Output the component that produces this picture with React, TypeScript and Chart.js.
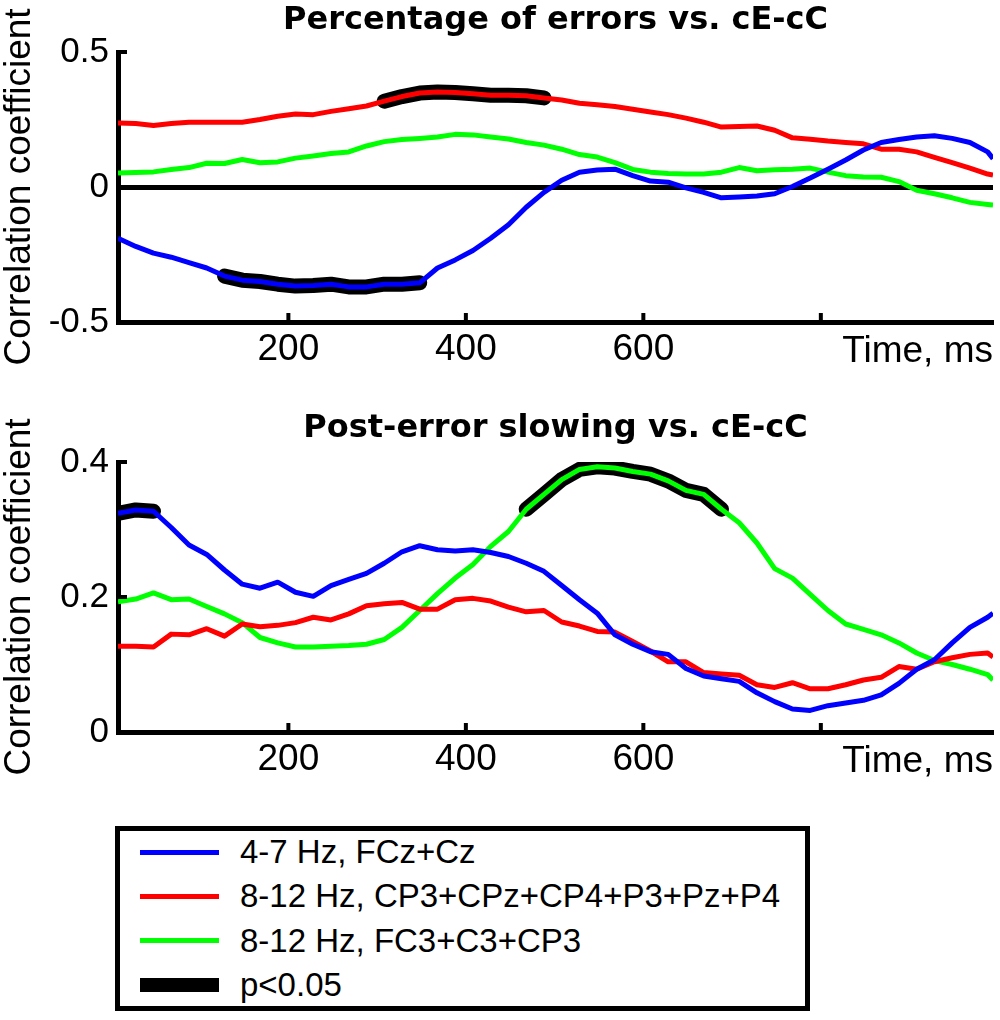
import { useEffect, useRef } from 'react'
import { Chart, registerables } from 'chart.js'
import type { ChartConfiguration, Plugin } from 'chart.js'

Chart.register(...registerables)

const FONT = "'Liberation Sans', Arial, Helvetica, sans-serif"
const TITLE_FONT = "'DejaVu Sans', 'Liberation Sans', Arial, sans-serif"

// time axis (ms)
const timeMs = [
  8, 28, 48, 68, 88, 108, 128, 148, 168, 188, 208, 228, 248, 268, 288, 308, 328,
  348, 368, 388, 408, 428, 448, 468, 488, 508, 528, 548, 568, 588, 608, 628, 648,
  668, 688, 708, 728, 748, 768, 788, 808, 828, 848, 868, 888, 908, 928, 948, 968,
  988, 994,
]
const timeTicks = [200, 400, 600, 800]
// the 800 slot is left empty, the axis title sits there
const timeTickLabels = ['200', '400', '600', '']

const seriesNames = ['4-7 Hz, FCz+Cz', '8-12 Hz, CP3+CPz+CP4+P3+Pz+P4', '8-12 Hz, FC3+C3+CP3']
const seriesColors = ['#0000ff', '#ff0000', '#00ff00']
const sigName = 'p<0.05'

// Percentage of errors vs. cE-cC
const errTheta = [
  -0.19, -0.22, -0.245, -0.26, -0.28, -0.3, -0.33, -0.345, -0.35, -0.36, -0.367,
  -0.365, -0.36, -0.37, -0.37, -0.36, -0.36, -0.355, -0.3, -0.27, -0.235, -0.19,
  -0.14, -0.075, -0.02, 0.025, 0.055, 0.063, 0.066, 0.042, 0.022, 0.018, -0.003,
  -0.02, -0.04, -0.037, -0.033, -0.025, 0.002, 0.033, 0.066, 0.1, 0.137, 0.165,
  0.176, 0.185, 0.19, 0.18, 0.165, 0.13, 0.105,
]
const errAlphaPar = [
  0.237, 0.235, 0.228, 0.235, 0.24, 0.24, 0.24, 0.24, 0.25, 0.262, 0.27, 0.268,
  0.28, 0.29, 0.3, 0.318, 0.335, 0.348, 0.352, 0.35, 0.345, 0.34, 0.34, 0.338,
  0.33, 0.322, 0.31, 0.305, 0.298, 0.288, 0.278, 0.268, 0.255, 0.24, 0.222, 0.224,
  0.226, 0.21, 0.182, 0.177, 0.17, 0.165, 0.16, 0.14, 0.14, 0.13, 0.11, 0.09,
  0.07, 0.048, 0.044,
]
const errAlphaLeft = [
  0.052, 0.054, 0.056, 0.065, 0.072, 0.088, 0.087, 0.102, 0.09, 0.093, 0.107,
  0.115, 0.124, 0.13, 0.152, 0.168, 0.176, 0.18, 0.185, 0.195, 0.193, 0.185,
  0.178, 0.165, 0.155, 0.14, 0.12, 0.111, 0.09, 0.065, 0.055, 0.05, 0.048, 0.048,
  0.055, 0.072, 0.06, 0.064, 0.066, 0.07, 0.055, 0.042, 0.037, 0.036, 0.02,
  -0.012, -0.025, -0.04, -0.057, -0.065, -0.067,
]
// significant windows (ms) per series
const errSig: ([number, number] | null)[] = [[128, 348], [308, 488], null]
const errYTicks = [-0.5, 0, 0.5]

// Post-error slowing vs. cE-cC
const pesTheta = [
  0.324, 0.329, 0.327, 0.303, 0.277, 0.263, 0.24, 0.219, 0.213, 0.222, 0.207,
  0.201, 0.217, 0.226, 0.235, 0.25, 0.267, 0.276, 0.27, 0.268, 0.27, 0.266, 0.26,
  0.25, 0.238, 0.217, 0.196, 0.176, 0.144, 0.13, 0.119, 0.115, 0.094, 0.083,
  0.079, 0.075, 0.058, 0.045, 0.034, 0.032, 0.039, 0.043, 0.047, 0.055, 0.072,
  0.093, 0.107, 0.132, 0.155, 0.17, 0.176,
]
const pesAlphaPar = [
  0.127, 0.127, 0.126, 0.145, 0.144, 0.153, 0.142, 0.16, 0.156, 0.158, 0.162,
  0.17, 0.166, 0.175, 0.187, 0.19, 0.192, 0.182, 0.182, 0.196, 0.198, 0.194,
  0.185, 0.178, 0.18, 0.163, 0.157, 0.149, 0.148, 0.134, 0.12, 0.104, 0.104,
  0.088, 0.086, 0.084, 0.07, 0.066, 0.073, 0.064, 0.064, 0.07, 0.077, 0.081,
  0.097, 0.093, 0.104, 0.11, 0.115, 0.117, 0.111,
]
const pesAlphaLeft = [
  0.193, 0.197, 0.206, 0.196, 0.197, 0.186, 0.175, 0.162, 0.14, 0.132, 0.126,
  0.126, 0.127, 0.128, 0.13, 0.137, 0.155, 0.18, 0.205, 0.228, 0.248, 0.275,
  0.297, 0.33, 0.352, 0.374, 0.389, 0.393, 0.391, 0.386, 0.382, 0.372, 0.358,
  0.352, 0.33, 0.31, 0.28, 0.242, 0.228, 0.204, 0.18, 0.16, 0.152, 0.144, 0.132,
  0.117, 0.106, 0.1, 0.093, 0.085, 0.077,
]
const pesSig: ([number, number] | null)[] = [[8, 48], null, [468, 688]]
const pesYTicks = [0, 0.2, 0.4]

interface PanelProps {
  top: number
  title: string
  series: number[][]
  sig: ([number, number] | null)[]
  yMin: number
  yMax: number
  yTicks: number[]
  zeroLine: boolean
  titlePad: { top: number; bottom: number }
  bottomPad: number
}

// matlab style ticks pointing into the plot
const inwardTicks: Plugin<'line'> = {
  id: 'inwardTicks',
  afterDraw(chart) {
    const { ctx, chartArea, scales } = chart
    ctx.save()
    ctx.strokeStyle = '#000'
    ctx.lineWidth = 4
    for (const t of scales.x.ticks) {
      const px = scales.x.getPixelForValue(t.value)
      ctx.beginPath()
      ctx.moveTo(px, chartArea.bottom)
      ctx.lineTo(px, chartArea.bottom - 9)
      ctx.stroke()
    }
    for (const t of scales.y.ticks) {
      const py = scales.y.getPixelForValue(t.value)
      ctx.beginPath()
      ctx.moveTo(chartArea.left, py)
      ctx.lineTo(chartArea.left + 9, py)
      ctx.stroke()
    }
    ctx.restore()
  },
}

function buildConfig(p: PanelProps): ChartConfiguration<'line'> {
  const lines = p.series.map((vals, i) => ({
    label: seriesNames[i],
    data: timeMs.map((t, j) => ({ x: t, y: vals[j] })),
    borderColor: seriesColors[i],
    borderWidth: 5,
    borderJoinStyle: 'round' as const,
    pointRadius: 0,
    tension: 0,
  }))
  // thick black underlay where p<0.05, listed last so it is drawn first
  const sig = p.series.flatMap((vals, i) => {
    const w = p.sig[i]
    if (!w) return []
    return [
      {
        label: sigName,
        data: timeMs.map((t, j) => ({ x: t, y: t >= w[0] && t <= w[1] ? vals[j] : null })),
        borderColor: '#000',
        borderWidth: 15,
        borderCapStyle: 'round' as const,
        borderJoinStyle: 'round' as const,
        pointRadius: 0,
        tension: 0,
        spanGaps: false,
      },
    ]
  })

  const tickFont = { family: FONT, size: 37, lineHeight: 1 }

  return {
    type: 'line',
    data: { datasets: [...lines, ...sig] as any },
    plugins: [inwardTicks],
    options: {
      animation: false,
      responsive: true,
      maintainAspectRatio: false,
      events: [],
      layout: { padding: { left: 0, right: 7, top: 0, bottom: p.bottomPad } },
      plugins: {
        legend: { display: false },
        tooltip: { enabled: false },
        title: {
          display: true,
          text: p.title,
          fullSize: false,
          color: '#000',
          font: { family: TITLE_FONT, size: 32, weight: 'bold', lineHeight: 1 },
          padding: p.titlePad,
        },
      },
      scales: {
        x: {
          type: 'linear',
          min: 8,
          max: 994,
          afterBuildTicks: (s) => {
            s.ticks = timeTicks.map((v) => ({ value: v }))
          },
          afterFit: (s) => {
            s.height = 48
          },
          grid: { drawOnChartArea: false, drawTicks: false },
          border: { display: true, color: '#000', width: 5 },
          ticks: {
            color: '#000',
            padding: 9,
            maxRotation: 0,
            autoSkip: false,
            font: tickFont,
            callback: (v) => timeTickLabels[timeTicks.indexOf(Number(v))] ?? '',
          },
          title: {
            display: true,
            text: 'Time, ms',
            align: 'end',
            color: '#000',
            font: tickFont,
            padding: { top: 0, bottom: 0 },
          },
        },
        y: {
          type: 'linear',
          min: p.yMin,
          max: p.yMax,
          afterBuildTicks: (s) => {
            s.ticks = p.yTicks.map((v) => ({ value: v }))
          },
          afterFit: (s) => {
            s.width = 118
          },
          grid: {
            drawTicks: false,
            lineWidth: 5,
            color: (c) => (p.zeroLine && c.tick?.value === 0 ? '#000' : 'rgba(0,0,0,0)'),
          },
          border: { display: true, color: '#000', width: 5 },
          ticks: {
            color: '#000',
            padding: 9,
            font: { family: FONT, size: 35, lineHeight: 1 },
            callback: (v) => String(v),
          },
          title: {
            display: true,
            text: 'Correlation coefficient',
            color: '#000',
            font: { family: FONT, size: 37, lineHeight: 1 },
            padding: { top: 1, bottom: 0 },
          },
        },
      },
    },
  }
}

function Panel(props: PanelProps) {
  const chartRef = useRef<HTMLCanvasElement>(null)

  useEffect(() => {
    if (!chartRef.current) return
    const chart = new Chart(chartRef.current, buildConfig(props))
    return () => {
      chart.destroy()
    }
  }, [])

  return (
    <div style={{ position: 'absolute', left: 0, top: props.top, width: 1000, height: 400 }}>
      <canvas ref={chartRef} style={{ display: 'block' }} />
    </div>
  )
}

function Legend() {
  const entries = [
    ...seriesNames.map((name, i) => ({ name, color: seriesColors[i], width: 5 })),
    { name: sigName, color: '#000', width: 14 },
  ]
  return (
    <div
      style={{
        position: 'absolute',
        left: 115,
        top: 826,
        width: 695,
        height: 185,
        border: '5px solid #000',
        boxSizing: 'border-box',
        background: '#fff',
      }}
    >
      {entries.map((e, i) => {
        const center = 21 + 44.4 * i
        return (
          <div key={e.name}>
            <div
              style={{
                position: 'absolute',
                left: 20,
                top: center - e.width / 2,
                width: 79,
                height: e.width,
                background: e.color,
              }}
            />
            <div
              style={{
                position: 'absolute',
                left: 120,
                top: center - 20,
                height: 40,
                lineHeight: '40px',
                fontFamily: FONT,
                fontSize: 33,
                color: '#000',
                whiteSpace: 'nowrap',
              }}
            >
              {e.name}
            </div>
          </div>
        )
      })}
    </div>
  )
}

export default function App() {
  return (
    <div
      style={{
        position: 'absolute',
        left: 0,
        top: 0,
        width: 1000,
        height: 1020,
        background: '#fff',
        overflow: 'hidden',
      }}
    >
      <Panel
        top={0}
        title="Percentage of errors vs. cE-cC"
        series={[errTheta, errAlphaPar, errAlphaLeft]}
        sig={errSig}
        yMin={-0.5}
        yMax={0.5}
        yTicks={errYTicks}
        zeroLine={true}
        titlePad={{ top: 5, bottom: 15 }}
        bottomPad={30}
      />
      <Panel
        top={400}
        title="Post-error slowing vs. cE-cC"
        series={[pesTheta, pesAlphaPar, pesAlphaLeft]}
        sig={pesSig}
        yMin={0}
        yMax={0.4}
        yTicks={pesYTicks}
        zeroLine={false}
        titlePad={{ top: 12.5, bottom: 17.5 }}
        bottomPad={20}
      />
      <Legend />
    </div>
  )
}
